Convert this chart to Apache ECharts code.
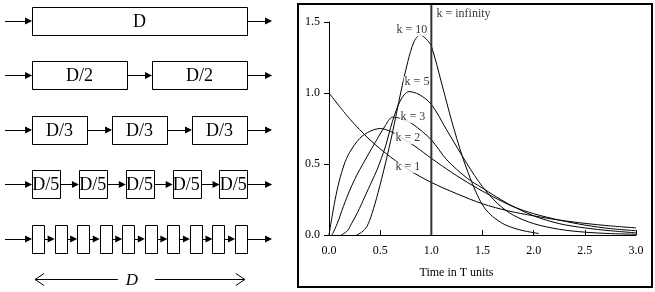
<!DOCTYPE html>
<html>
<head>
<meta charset="utf-8">
<script src="https://cdn.jsdelivr.net/npm/echarts@6/dist/echarts.min.js"></script>
<style>
html, body { margin: 0; padding: 0; background: #fff; }
#main { width: 655px; height: 292px; }
</style>
</head>
<body>
<div id="main"></div>
<script>
/* 
* 左边: 串联反应器示意图, 右边: 停留时间分布曲线
*/
var tankCounts = [1, 2, 3, 5, 10];
var tankLabels = ['D', 'D/2', 'D/3', 'D/5', ''];
var lengthLabel = 'D';

// curves: time in T units / response
var k1T = [0, 0.2, 0.4, 0.6, 0.8, 1.0, 1.25, 1.5, 1.75, 2.0, 2.25, 2.5, 2.75, 3.0];
var k1V = [1.0, 0.82, 0.67, 0.55, 0.45, 0.37, 0.29, 0.22, 0.17, 0.135, 0.105, 0.082, 0.064, 0.05];
var k2T = [0, 0.03, 0.06, 0.1, 0.15, 0.2, 0.3, 0.4, 0.5, 0.6, 0.7, 0.85, 1.0, 1.2, 1.4, 1.6, 1.8, 2.0, 2.25, 2.5, 2.75, 3.0];
var k2V = [0, 0.13, 0.25, 0.38, 0.5, 0.58, 0.68, 0.73, 0.75, 0.73, 0.69, 0.62, 0.54, 0.44, 0.35, 0.27, 0.2, 0.15, 0.105, 0.07, 0.045, 0.03];
var k3T = [0.03, 0.08, 0.14, 0.2, 0.25, 0.3, 0.37, 0.45, 0.55, 0.62, 0.7, 0.82, 1.0, 1.15, 1.35, 1.5, 1.75, 2.0, 2.25, 2.5, 2.75, 3.0];
var k3V = [0, 0.08, 0.2, 0.31, 0.39, 0.46, 0.55, 0.65, 0.77, 0.83, 0.82, 0.78, 0.67, 0.53, 0.4, 0.33, 0.22, 0.135, 0.08, 0.05, 0.03, 0.015];
var k5T = [0.12, 0.18, 0.22, 0.28, 0.35, 0.42, 0.47, 0.55, 0.62, 0.7, 0.78, 0.88, 1.0, 1.15, 1.35, 1.5, 1.65, 1.8, 2.0, 2.25, 2.5, 2.75, 3.0];
var k5V = [0, 0.03, 0.08, 0.16, 0.27, 0.38, 0.46, 0.62, 0.8, 0.95, 1.01, 0.99, 0.92, 0.74, 0.5, 0.34, 0.22, 0.14, 0.08, 0.04, 0.02, 0.01, 0.005];
var k10T = [0.27, 0.32, 0.37, 0.42, 0.48, 0.55, 0.62, 0.7, 0.77, 0.83, 0.89, 0.95, 1.0, 1.1, 1.2, 1.3, 1.38, 1.45, 1.52, 1.6, 1.7, 1.8, 1.9, 2.05];
var k10V = [0, 0.02, 0.06, 0.15, 0.3, 0.5, 0.72, 1.0, 1.22, 1.36, 1.41, 1.38, 1.33, 1.07, 0.8, 0.56, 0.4, 0.28, 0.19, 0.13, 0.08, 0.05, 0.03, 0.01];

var curveNames = ['k = 1', 'k = 2', 'k = 3', 'k = 5', 'k = 10'];
var curveLabelAt = [[0.77, 0.48], [0.77, 0.683], [0.82, 0.83], [0.86, 1.077], [0.81, 1.444]];
var infinityName = 'k = infinity';
var infinityT = 1.0;
var xName = 'Time in T units';

// layout of the diagram (axis units of the hidden left grid)
var rowGap = [0, 0.116, 0.116, 0.09, 0.049];
var boxHalf = 0.26;
var inletX = -0.1256, outletX = 1.1163;
var tipBack = 0.016;
var dimRow = 4.73;

var FONT = '"Liberation Serif", "Times New Roman", serif';

var myChart = echarts.init(document.getElementById('main'));

var boxData = [];
var arrowData = [];
for (var r = 0; r < tankCounts.length; r++) {
	var n = tankCounts[r];
	var g = rowGap[r];
	var w = (1 - (n - 1) * g) / n;
	var prev = inletX;
	for (var i = 0; i < n; i++) {
		var x0 = i * (w + g);
		boxData.push([x0, x0 + w, r]);
		arrowData.push({ coords: [[prev, r], [x0 - tipBack, r]] });
		prev = x0 + w;
	}
	arrowData.push({ coords: [[prev, r], [outletX - tipBack, r]] });
}

function zip(t, v) {
	var out = [];
	for (var i = 0; i < t.length; i++) out.push([t[i], v[i]]);
	return out;
}
var curves = [zip(k1T, k1V), zip(k2T, k2V), zip(k3T, k3V), zip(k5T, k5V), zip(k10T, k10V)];

var series = [];
// boxes
series.push({
	type: 'custom',
	xAxisIndex: 0, yAxisIndex: 0,
	data: boxData,
	z: 3,
	renderItem: function (params, api) {
		var a = api.coord([api.value(0), api.value(2) - boxHalf]);
		var b = api.coord([api.value(1), api.value(2) + boxHalf]);
		var x = Math.round(a[0]) + 0.5, y = Math.round(Math.min(a[1], b[1])) + 0.5;
		var row = boxData[params.dataIndex][2];
		return {
			type: 'group',
			children: [
				{ type: 'rect', shape: { x: x, y: y, width: Math.round(b[0] - a[0]), height: Math.round(Math.abs(b[1] - a[1])) },
				  style: { fill: '#fff', stroke: '#000', lineWidth: 1 } },
				{ type: 'text', style: { text: tankLabels[row], x: (a[0] + b[0]) / 2, y: (a[1] + b[1]) / 2 + 1,
				  align: 'center', verticalAlign: 'middle', font: '18px ' + FONT, fill: '#000' } }
			]
		};
	}
});
// arrows between boxes
series.push({
	type: 'lines',
	coordinateSystem: 'cartesian2d',
	xAxisIndex: 0, yAxisIndex: 0,
	symbol: ['none', 'triangle'],
	symbolSize: 7,
	lineStyle: { color: '#000', width: 1, opacity: 1 },
	itemStyle: { color: '#000' },
	data: arrowData,
	z: 2
});
// length D under the diagram
series.push({
	type: 'custom',
	xAxisIndex: 0, yAxisIndex: 0,
	data: [[0.014, 0.99, dimRow]],
	renderItem: function (params, api) {
		var a = api.coord([api.value(0), api.value(2)]);
		var b = api.coord([api.value(1), api.value(2)]);
		var mid = (a[0] + b[0]) / 2;
		var y = Math.round(a[1]) + 0.5;
		var st = { stroke: '#000', lineWidth: 1, fill: null };
		return {
			type: 'group',
			children: [
				{ type: 'line', shape: { x1: a[0], y1: y, x2: mid - 22, y2: y }, style: st },
				{ type: 'line', shape: { x1: mid + 15, y1: y, x2: b[0], y2: y }, style: st },
				{ type: 'polyline', shape: { points: [[a[0] + 9, y - 6], [a[0], y], [a[0] + 9, y + 6]] }, style: st },
				{ type: 'polyline', shape: { points: [[b[0] - 9, y - 6], [b[0], y], [b[0] - 9, y + 6]] }, style: st },
				{ type: 'text', style: { text: lengthLabel, x: mid - 8, y: y + 1, align: 'center', verticalAlign: 'middle',
				  font: 'italic 17px ' + FONT, fill: '#000' } }
			]
		};
	}
});
// response curves
for (var c = 0; c < curves.length; c++) {
	series.push({
		type: 'line',
		name: curveNames[c],
		xAxisIndex: 1, yAxisIndex: 1,
		data: curves[c],
		symbol: 'none',
		smooth: 0.3,
		lineStyle: { color: '#000', width: 1 },
		z: 2
	});
}
// curve labels
series.push({
	type: 'scatter',
	xAxisIndex: 1, yAxisIndex: 1,
	symbolSize: 0,
	data: curveNames.map(function (nm, i) { return { name: nm, value: curveLabelAt[i] }; }),
	label: {
		show: true, position: 'inside', formatter: '{b}', color: '#000',
		fontFamily: FONT, fontSize: 12, backgroundColor: '#fff', padding: [0, 1]
	},
	z: 3
});
// k = infinity
series.push({
	type: 'line',
	xAxisIndex: 1, yAxisIndex: 1,
	data: [[infinityT, 0], [infinityT, 1.627]],
	clip: false,
	symbol: 'none',
	lineStyle: { color: '#333', width: 2 },
	z: 4
});
series.push({
	type: 'scatter',
	xAxisIndex: 1, yAxisIndex: 1,
	clip: false,
	symbolSize: 0,
	data: [{ name: infinityName, value: [infinityT + 0.05, 1.556] }],
	label: { show: true, position: 'right', distance: 0, formatter: '{b}', color: '#000', fontFamily: FONT, fontSize: 12 },
	z: 4
});

var option = {
	animation: false,
	backgroundColor: '#fff',
	grid: [
		{ left: 5, top: 0, width: 267, height: 292 },
		{ left: 329, top: 22, width: 307, height: 213 }
	],
	xAxis: [
		{ gridIndex: 0, type: 'value', min: inletX, max: outletX, show: false },
		{
			gridIndex: 1, type: 'value', min: 0, max: 3, interval: 0.5,
			axisLine: { show: true, onZero: false, lineStyle: { color: '#000', width: 1 } },
			axisTick: { show: true, inside: true, length: 5, lineStyle: { color: '#000' } },
			axisLabel: { color: '#000', fontFamily: FONT, fontSize: 12, margin: 10,
				formatter: function (v) { return v.toFixed(1); } },
			splitLine: { show: false },
			name: xName, nameLocation: 'middle', nameGap: 32,
			nameTextStyle: { color: '#000', fontFamily: FONT, fontSize: 12, padding: [0, 52, 0, 0] }
		}
	],
	yAxis: [
		{ gridIndex: 0, type: 'value', min: -0.385, max: 4.972, inverse: true, show: false },
		{
			gridIndex: 1, type: 'value', min: 0, max: 1.5, interval: 0.5,
			axisLine: { show: true, lineStyle: { color: '#000', width: 1 } },
			axisTick: { show: true, length: 5, lineStyle: { color: '#000' } },
			axisLabel: { color: '#000', fontFamily: FONT, fontSize: 12, margin: 9,
				formatter: function (v) { return v.toFixed(1); } },
			splitLine: { show: false }
		}
	],
	graphic: [
		{ type: 'rect', shape: { x: 298, y: 4, width: 354, height: 283 },
		  style: { fill: null, stroke: '#000', lineWidth: 2 }, z: 10 }
	],
	series: series
};
myChart.setOption(option);
</script>
</body>
</html>
